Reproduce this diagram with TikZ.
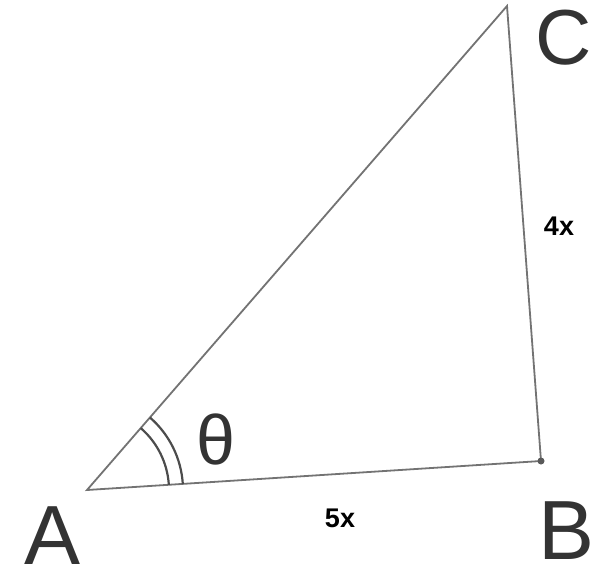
\documentclass[tikz,border=0pt]{standalone}
\usepackage{fontspec}
\setmainfont{Liberation Sans}
\usepackage{tikz}
\usetikzlibrary{positioning}

\begin{document}
\begin{tikzpicture}[x=1pt, y=-1pt,
  side/.style={draw=black!55, line width=1.8pt, line cap=round},
  vlabel/.style={font=\fontsize{84}{84}\selectfont, text=black!80, inner sep=0pt},
  slabel/.style={font=\fontsize{27}{27}\selectfont\bfseries, inner sep=0pt},
  anglemark/.style={draw=black!70, line width=2.2pt}
]
  \useasboundingbox (0,0) rectangle (596,584);

  % vertices
  \coordinate (A) at (87,490);
  \coordinate (B) at (541,461);
  \coordinate (C) at (507,6);

  \draw[side] (A) -- (B) -- (C) -- cycle;
  \fill[black!65] (B) circle (3.5pt);

  % angle at A (y runs downwards, so angles are negative)
  \draw[anglemark] (A) ++(-3.6:82) arc[start angle=-3.6, end angle=-49, radius=82];
  \draw[anglemark] (A) ++(-3.6:96) arc[start angle=-3.6, end angle=-49, radius=96];
  \node[inner sep=0pt, font=\fontsize{70}{70}\selectfont, text=black!80] (theta) at (216,439) {θ};

  \node[vlabel] (lA) at (53,536) {A};
  \node[vlabel] (lB) at (567,531) {B};
  \node[vlabel, font=\fontsize{78}{78}\selectfont] (lC) at (564,38) {C};

  \node[slabel] (ab) at (340,518) {5x};
  \node[slabel] (bc) at (559,226) {4x};
\end{tikzpicture}
\end{document}
